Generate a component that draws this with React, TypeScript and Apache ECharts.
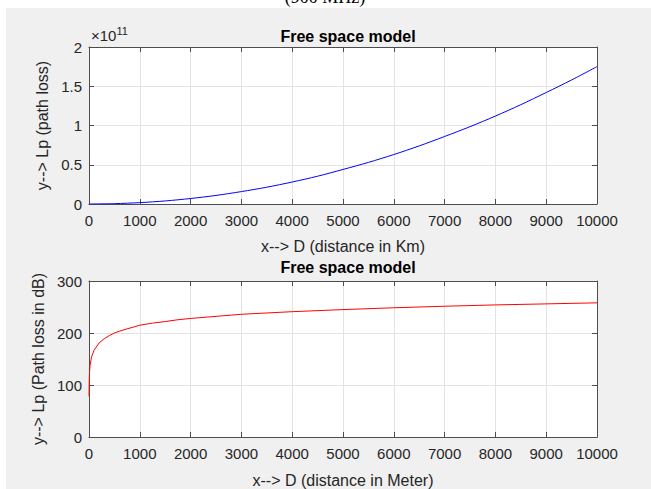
import React, { useEffect, useRef } from "react";
import * as echarts from "echarts";

// Top subplot: distance (Km) vs path loss (×10^11)
const distanceKm = [0, 500, 1000, 1500, 2000, 2500, 3000, 3500, 4000, 4500, 5000, 5500, 6000, 6500, 7000, 7500, 8000, 8500, 9000, 9500, 10000];
const pathLossE11 = [0, 0.0044, 0.0175, 0.039, 0.07, 0.109, 0.158, 0.214, 0.28, 0.354, 0.44, 0.53, 0.63, 0.74, 0.86, 0.985, 1.12, 1.265, 1.42, 1.58, 1.75];

// Bottom subplot: distance (Meter) vs path loss (dB)
const distanceM = [1, 2, 5, 10, 20, 50, 100, 200, 300, 400, 500, 600, 750, 900, 1000, 1250, 1500, 1750, 2000, 2500, 3000, 3500, 4000, 5000, 6000, 7000, 8000, 9000, 10000];
const pathLossDb = [78, 93, 111, 124, 137, 154, 167, 181, 189, 195, 200, 203.5, 208, 212, 215, 219, 222, 225.5, 228, 232, 236, 238.5, 241, 245, 248.5, 251.5, 254, 256, 258];

const FONT = "'Liberation Sans', Arial, Helvetica, sans-serif";
const TXT = "#262626";
const AX = "#4d4d4d";

export default function App() {
  const ref = useRef<HTMLDivElement>(null);
  useEffect(() => {
    if (!ref.current) return;
    const chart = echarts.init(ref.current, undefined, { renderer: "svg" });
    const G = [
      { left: 89, top: 47, width: 508, height: 157 },
      { left: 89, top: 281, width: 508, height: 156 },
    ];
    const fmt = (v: number) => String(v);
    const mainX = (gi: number, name: string, gap: number) => ({
      type: "value",
      gridIndex: gi,
      min: 0,
      max: 10000,
      interval: 1000,
      name,
      nameLocation: "middle",
      nameGap: gap,
      nameTextStyle: { fontFamily: FONT, fontSize: 16, color: TXT },
      axisLine: { show: true, onZero: false, lineStyle: { color: AX, width: 1 } },
      axisTick: { show: true, inside: true, length: 5, lineStyle: { color: AX } },
      axisLabel: { show: true, formatter: fmt, fontFamily: FONT, fontSize: 15, color: TXT, margin: 9, showMaxLabel: true, showMinLabel: true },
      splitLine: { show: true, lineStyle: { color: "#e3e3e3", width: 1 } },
    });
    const boxX = (gi: number) => ({
      type: "value",
      gridIndex: gi,
      position: "top",
      min: 0,
      max: 10000,
      interval: 1000,
      axisLine: { show: true, onZero: false, lineStyle: { color: AX, width: 1 } },
      axisTick: { show: true, inside: true, length: 5, lineStyle: { color: AX } },
      axisLabel: { show: false },
      splitLine: { show: false },
    });
    const mainY = (gi: number, max: number, interval: number, name: string, gap: number) => ({
      type: "value",
      gridIndex: gi,
      min: 0,
      max,
      interval,
      name,
      nameLocation: "middle",
      nameGap: gap,
      nameTextStyle: { fontFamily: FONT, fontSize: 16, color: TXT },
      axisLine: { show: true, onZero: false, lineStyle: { color: AX, width: 1 } },
      axisTick: { show: true, inside: true, length: 5, lineStyle: { color: AX } },
      axisLabel: { show: true, formatter: fmt, fontFamily: FONT, fontSize: 15, color: TXT, margin: 7 },
      splitLine: { show: true, lineStyle: { color: "#e3e3e3", width: 1 } },
    });
    const boxY = (gi: number, max: number, interval: number) => ({
      type: "value",
      gridIndex: gi,
      position: "right",
      min: 0,
      max,
      interval,
      axisLine: { show: true, onZero: false, lineStyle: { color: AX, width: 1 } },
      axisTick: { show: true, inside: true, length: 5, lineStyle: { color: AX } },
      axisLabel: { show: false },
      splitLine: { show: false },
    });

    chart.setOption({
      animation: false,
      backgroundColor: "#ffffff",
      graphic: [
        {
          type: "text",
          x: 325,
          y: 6,
          z: -101,
          style: { text: "(900 MHz)", font: "18px 'Liberation Serif', 'DejaVu Serif', serif", fill: "#000", textAlign: "center", textVerticalAlign: "bottom" },
        },
        {
          type: "rect",
          z: -100,
          silent: true,
          shape: { x: 6, y: 8, width: 645, height: 481 },
          style: { fill: "#f0f0f0" },
        },
        {
          type: "text",
          x: 91,
          y: 46,
          z: 10,
          style: {
            text: "×10{sup|11}",
            textVerticalAlign: "bottom",
            font: `15px ${FONT}`,
            fill: TXT,
            rich: {
              sup: { fontSize: 11, fontFamily: FONT, verticalAlign: "top", padding: [0, 0, 10, 0], fill: TXT } as any,
            },
          },
        },
      ],
      title: [
        { text: "Free space model", left: 343, top: 23, textAlign: "center", textStyle: { fontFamily: FONT, fontSize: 16, fontWeight: "bold", color: "#000" } },
        { text: "Free space model", left: 343, top: 254, textAlign: "center", textStyle: { fontFamily: FONT, fontSize: 16, fontWeight: "bold", color: "#000" } },
      ],
      grid: G.map((g) => ({ ...g, show: true, backgroundColor: "#ffffff", borderWidth: 0, containLabel: false })),
      xAxis: [
        mainX(0, "x--> D (distance in Km)", 34),
        boxX(0),
        mainX(1, "x--> D (distance in Meter)", 35),
        boxX(1),
      ],
      yAxis: [
        mainY(0, 2, 0.5, "y--> Lp (path loss)", 36),
        boxY(0, 2, 0.5),
        mainY(1, 300, 100, "y--> Lp (Path loss in dB)", 36),
        boxY(1, 300, 100),
      ],
      series: [
        {
          type: "line",
          xAxisIndex: 0,
          yAxisIndex: 0,
          data: distanceKm.map((d, i) => [d, pathLossE11[i]]),
          showSymbol: false,
          smooth: 0.3,
          lineStyle: { color: "#0000ff", width: 1 },
          itemStyle: { color: "#0000ff" },
        },
        {
          type: "line",
          xAxisIndex: 2,
          yAxisIndex: 2,
          data: distanceM.map((d, i) => [d, pathLossDb[i]]),
          showSymbol: false,
          smooth: false,
          lineStyle: { color: "#ff0000", width: 1 },
          itemStyle: { color: "#ff0000" },
        },
      ],
    } as any);
    return () => chart.dispose();
  }, []);
  return (
    <div
      ref={ref}
      style={{ position: "fixed", left: 0, top: 0, width: 651, height: 489 }}
    />
  );
}
